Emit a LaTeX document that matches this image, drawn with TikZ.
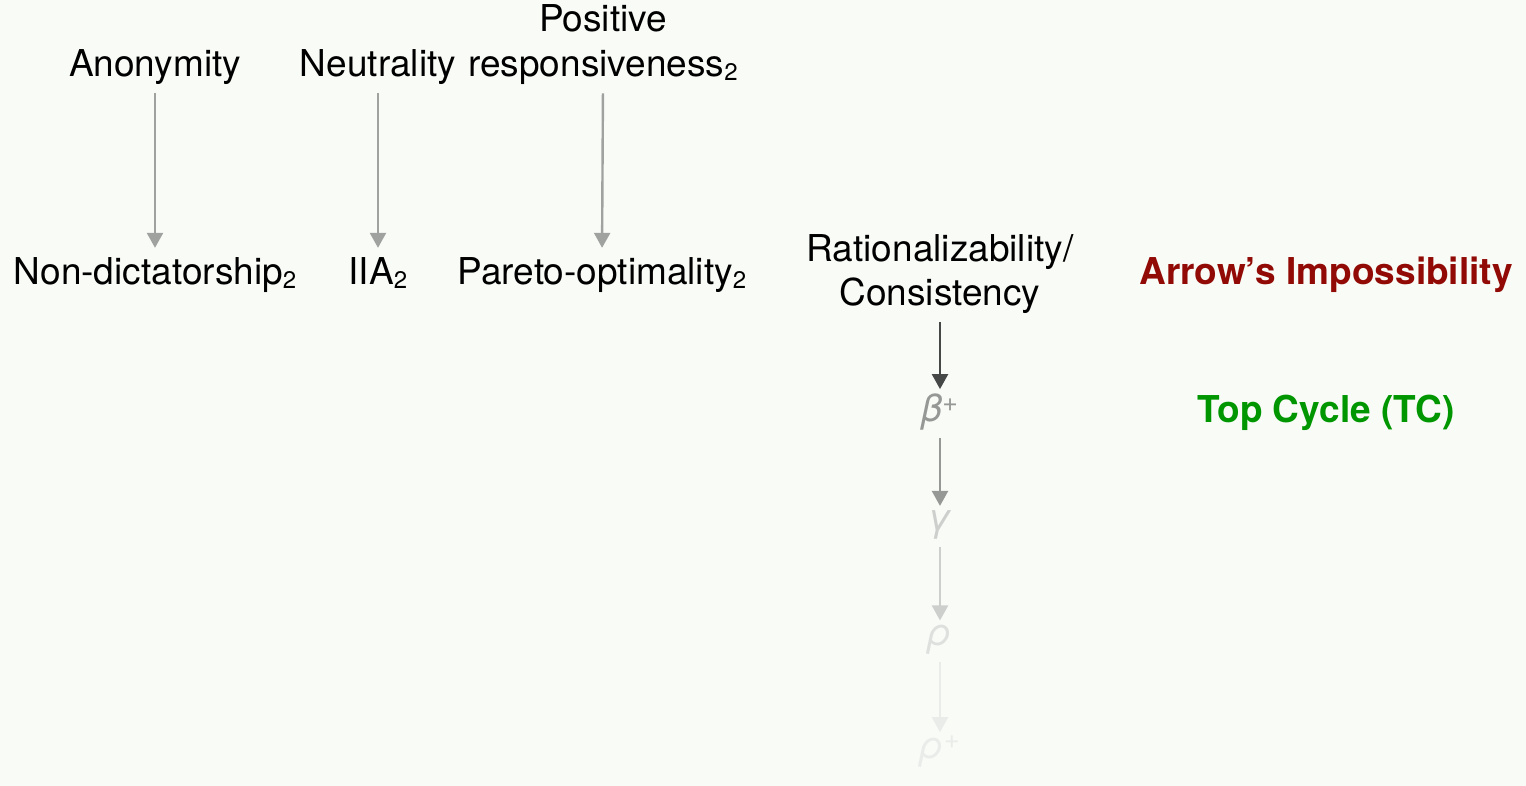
\documentclass[tikz,border=0pt]{standalone}
\usepackage{fontspec}
\setmainfont{TeX Gyre Heros}
\usetikzlibrary{arrows.meta}
\definecolor{bgc}{RGB}{248,251,246}
\definecolor{arrowred}{RGB}{145,10,5}
\definecolor{tcgreen}{RGB}{0,150,0}
\definecolor{gA}{RGB}{160,162,160}
\definecolor{gB}{RGB}{150,152,150}
\definecolor{gC}{RGB}{205,207,205}
\definecolor{gD}{RGB}{222,224,222}
\definecolor{gE}{RGB}{234,236,234}
\definecolor{darkarr}{RGB}{70,72,72}
\newcommand{\subtwo}{\raisebox{-0.1em}{\fontsize{24}{24}\selectfont 2}}
\tikzset{
  lbl/.style={anchor=base, inner sep=0pt, font=\fontsize{37}{44}\selectfont},
  bold/.style={lbl, font=\fontsize{37}{44}\selectfont\bfseries},
  greek/.style={lbl, font=\fontsize{38}{44}\selectfont\itshape},
  arr/.style={line width=2.4pt, -{Triangle[width=16pt,length=15pt]}, shorten <=8pt, shorten >=10pt},
  carr/.style={arr, shorten >=4pt}
}
\begin{document}
\begin{tikzpicture}[x=1pt,y=-1pt]
\fill[bgc] (0,0) rectangle (1526,786);
\useasboundingbox (0,0) rectangle (1526,786);
% top row
\node[lbl] (anon) at (155,77) {Anonymity};
\node[lbl] (neut) at (378,77) {Neutrality};
\node[lbl] (pos) at (603,32) {Positive};
\node[lbl] (resp) at (603,77) {responsiveness\subtwo};
% second row
\node[lbl] (nondict) at (155,285) {Non-dictatorship\subtwo};
\node[lbl] (iia) at (378,285) {IIA\subtwo};
\node[lbl] (pareto) at (602,285) {Pareto-optimality\subtwo};
\node[lbl] (rat) at (940,262) {Rationalizability/};
\node[lbl] (cons) at (940,306) {Consistency};
\node[bold, text=arrowred] (arrowimp) at (1326,285) {Arrow’s Impossibility};
% chain
\node[greek, text=gB] (beta) at (940,421) {β\textsuperscript{\upshape +}};
\node[greek, text=gC] (gamma) at (940,530) {γ};
\node[greek, text=gD] (rho) at (940,645) {ρ};
\node[greek, text=gE] (rhop) at (940,758) {ρ\textsuperscript{\upshape +}};
\node[bold, text=tcgreen] (tc) at (1326,422) {Top Cycle (TC)};
% arrows
\draw[arr, draw=gA, fill=gA] (anon.south) -- (nondict.north);
\draw[arr, draw=gA, fill=gA] (neut.south) -- (iia.north);
\draw[arr, draw=gA, fill=gA] (resp.south) -- (pareto.north);
\draw[carr, draw=darkarr, fill=darkarr] (cons.south) -- (beta.north);
\draw[carr, draw=gB, fill=gB] (beta.south) -- (gamma.north);
\draw[carr, draw=gC, fill=gC] (gamma.south) -- (rho.north);
\draw[carr, draw=gE, fill=gE] (rho.south) -- (rhop.north);
\end{tikzpicture}
\end{document}
